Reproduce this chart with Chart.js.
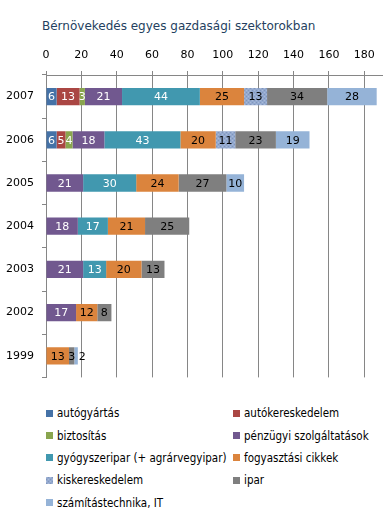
<!DOCTYPE html>
<html>
<head>
<meta charset="utf-8">
<script src="https://cdn.jsdelivr.net/npm/chart.js@4.4.0/dist/chart.umd.min.js"></script>
<style>
  body { margin: 0; width: 385px; height: 520px; background: #fff; position: relative; overflow: hidden; }
  #title { position: absolute; left: 42px; top: 19px; font: 12px "DejaVu Sans"; color: #243f60; white-space: nowrap; }
  #wrap { position: absolute; left: 0; top: 0; width: 385px; height: 392px; }
  #legend { position: absolute; left: 46px; top: 402px; width: 339px; display: grid; grid-template-columns: 187px 152px; grid-auto-rows: 22.4px; font: 11.5px "DejaVu Sans Condensed", "Liberation Sans"; color: #000; }
  .item { display: flex; align-items: center; white-space: nowrap; }
  .box { width: 7px; height: 7px; margin-right: 4px; flex: none; }
</style>
</head>
<body>
<div id="title">Bérnövekedés egyes gazdasági szektorokban</div>
<div id="wrap"><canvas id="chartId"></canvas></div>
<div id="legend"></div>
<script>
// categories (top to bottom)
const years = ['2007', '2006', '2005', '2004', '2003', '2002', '1999'];

// series values
const autogyartas = [6, 6, null, null, null, null, null];
const autokereskedelem = [13, 5, null, null, null, null, null];
const biztositas = [3, 4, null, null, null, null, null];
const penzugyi = [21, 18, 21, 18, 21, 17, null];
const gyogyszeripar = [44, 43, 30, 17, 13, null, null];
const fogyasztasi = [25, 20, 24, 21, 20, 12, 13];
const kiskereskedelem = [13, 11, null, null, null, null, null];
const ipar = [34, 23, 27, 25, 13, 8, 3];
const it = [28, 19, 10, null, null, null, 2];

const xTicks = [0, 20, 40, 60, 80, 100, 120, 140, 160, 180];

// dotted fill for kiskereskedelem
const dots = document.createElement('canvas');
dots.width = 4; dots.height = 4;
(function () {
  const g = dots.getContext('2d');
  g.fillStyle = '#93a9cf';
  g.fillRect(0, 0, 4, 4);
  g.fillStyle = '#a9bad8';
  g.fillRect(0, 0, 1, 1); g.fillRect(2, 2, 1, 1);
  g.fillStyle = '#8196bb';
  g.fillRect(2, 0, 1, 1); g.fillRect(0, 2, 1, 1);
})();

const series = [
  { label: 'autógyártás', data: autogyartas, color: '#4572a7', text: '#fff' },
  { label: 'autókereskedelem', data: autokereskedelem, color: '#aa4643', text: '#fff' },
  { label: 'biztosítás', data: biztositas, color: '#89a54e', text: '#fff' },
  { label: 'pénzügyi szolgáltatások', data: penzugyi, color: '#71588f', text: '#fff' },
  { label: 'gyógyszeripar (+ agrárvegyipar)', data: gyogyszeripar, color: '#4198af', text: '#fff' },
  { label: 'fogyasztási cikkek', data: fogyasztasi, color: '#db843d', text: '#000' },
  { label: 'kiskereskedelem', data: kiskereskedelem, color: '#93a9cf', text: '#000', dotted: true },
  { label: 'ipar', data: ipar, color: '#7f7f7f', text: '#000' },
  { label: 'számítástechnika, IT', data: it, color: '#95b3d7', text: '#000' }
];

// value labels on each segment
const segmentLabels = {
  id: 'segmentLabels',
  afterDatasetsDraw(chart) {
    const ctx = chart.ctx;
    ctx.save();
    ctx.font = '11px "DejaVu Sans"';
    ctx.textBaseline = 'middle';
    chart.data.datasets.forEach((ds, i) => {
      chart.getDatasetMeta(i).data.forEach((bar, j) => {
        const v = ds.data[j];
        if (!v) return;
        const txt = String(v);
        const w = ctx.measureText(txt).width;
        const segW = bar.x - bar.base;
        // is this the last segment of the stack?
        let last = true;
        for (let k = i + 1; k < chart.data.datasets.length; k++) {
          if (chart.data.datasets[k].data[j]) last = false;
        }
        ctx.fillStyle = series[i].text;
        if (last && segW < w) {
          ctx.textAlign = 'left';
          ctx.fillText(txt, bar.x + 1, bar.y + 1);
        } else {
          ctx.textAlign = 'center';
          ctx.fillText(txt, (bar.x + bar.base) / 2, bar.y + 1);
        }
      });
    });
    ctx.restore();
  }
};

const ctx = document.getElementById('chartId').getContext('2d');
const newChart = new Chart(ctx, {
  type: 'bar',
  data: {
    labels: years,
    datasets: series.map(s => ({
      label: s.label,
      data: s.data,
      backgroundColor: s.dotted ? ctx.createPattern(dots, 'repeat') : s.color,
      borderWidth: 0,
      categoryPercentage: 0.4,
      barPercentage: 1
    }))
  },
  options: {
    indexAxis: 'y',
    responsive: true,
    maintainAspectRatio: false,
    animation: false,
    layout: { padding: { top: 0, left: 0, right: 3, bottom: 7 } },
    plugins: {
      legend: { display: false },
      tooltip: { enabled: false }
    },
    scales: {
      x: {
        position: 'top',
        stacked: true,
        min: 0,
        max: 190,
        afterBuildTicks: s => { s.ticks = xTicks.map(v => ({ value: v })); },
        afterFit: s => { s.height = 75; },
        ticks: { font: { family: 'DejaVu Sans', size: 11 }, color: '#000', padding: 9, maxRotation: 0 },
        grid: { color: '#868686', tickLength: 4 },
        border: { color: '#868686' }
      },
      y: {
        stacked: true,
        afterFit: s => { s.width = 46; },
        ticks: { font: { family: 'DejaVu Sans', size: 11 }, color: '#000', padding: 8 },
        grid: { drawOnChartArea: false, color: '#868686', tickLength: 4 },
        border: { color: '#868686' }
      }
    }
  },
  plugins: [segmentLabels]
});

// legend in two columns
const legend = document.getElementById('legend');
series.forEach(s => {
  const item = document.createElement('div');
  item.className = 'item';
  const box = document.createElement('span');
  box.className = 'box';
  box.style.background = s.dotted ? 'url(' + dots.toDataURL() + ')' : s.color;
  item.appendChild(box);
  item.appendChild(document.createTextNode(s.label));
  legend.appendChild(item);
});
</script>
</body>
</html>
